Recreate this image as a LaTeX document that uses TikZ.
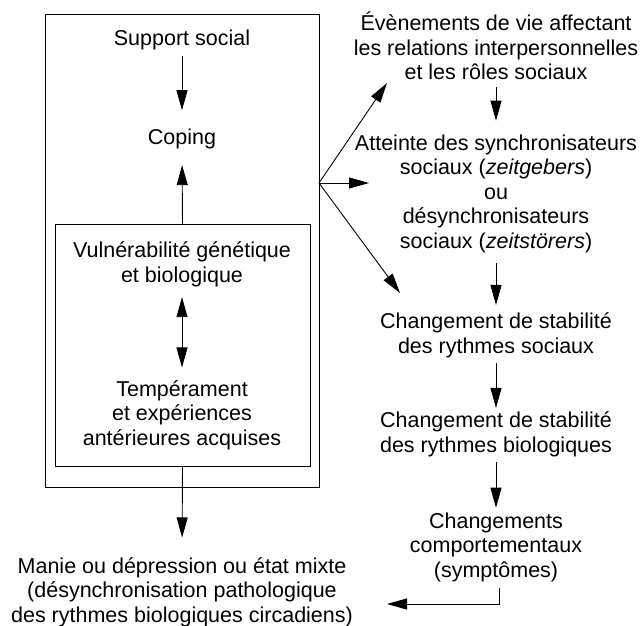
\documentclass[tikz,border=0pt]{standalone}
\usepackage{fontspec}
\setmainfont{Liberation Sans}
\usetikzlibrary{arrows.meta}

\tikzset{
  lbl/.style={align=center, inner sep=0pt, anchor=base, font=\fontsize{21.5}{24.5}\selectfont},
  cadre/.style={draw, line width=0.9pt, inner sep=0pt},
  arr/.style={-{Triangle[length=20pt,width=11pt]}, line width=0.9pt},
  arrdbl/.style={{Triangle[length=20pt,width=11pt]}-{Triangle[length=20pt,width=11pt]}, line width=0.9pt}
}

\begin{document}
\begin{tikzpicture}[x=1pt,y=-1pt]
      \useasboundingbox (0,0) rectangle (640,626);
      \node[cadre, minimum width=274pt, minimum height=473pt] (ext) at (182,250.5) {};
      \node[cadre, minimum width=255pt, minimum height=242pt] (int) at (182.5,345) {};
      \node[lbl] (sup) at (182,46) {Support social};
      \node[lbl] (cop) at (182,144) {Coping};
      \node[lbl] (vul) at (182,282) {Vulnérabilité génétique\\et biologique};
      \node[lbl] (tem) at (182,445) {Tempérament\\et expériences\\antérieures acquises};
      \node[lbl] (man) at (182,622) {Manie ou dépression ou état mixte\\(désynchronisation pathologique\\des rythmes biologiques circadiens)};
      \node[lbl] (eve) at (496,80) {Évènements de vie affectant\\les relations interpersonnelles\\et les rôles sociaux};
      \node[lbl] (att) at (496,248) {Atteinte des synchronisateurs\\sociaux (\textit{zeitgebers})\\ou\\désynchronisateurs\\sociaux (\textit{zeitstörers})};
      \node[lbl] (cs1) at (496,353) {Changement de stabilité\\des rythmes sociaux};
      \node[lbl] (cs2) at (496,452) {Changement de stabilité\\des rythmes biologiques};
      \node[lbl] (chg) at (496,577) {Changements\\comportementaux\\(symptômes)};
      \coordinate (fan) at (319,183);
      \coordinate (versEve) at (387,83);
      \coordinate (versAtt) at (369,183);
      \coordinate (versCs) at (400,293);
      \coordinate (retour) at (387,604);
      \draw[arr, shorten <=5.5pt, shorten >=18pt] (sup.south) -- (cop.north);
      \draw[arr, shorten >=16.5pt] (int.north) -- (cop.south);
      \draw[arrdbl, shorten <=10.5pt, shorten >=12.5pt] (vul.south) -- (tem.north);
      \draw[arr, shorten >=19.5pt] (int.south) -- (man.north);
      \draw[arr] (fan) -- (versEve);
      \draw[arr] (fan) -- (versAtt);
      \draw[arr] (fan) -- (versCs);
      \draw[arr, shorten <=7pt, shorten >=13.5pt] (eve.south) -- (att.north);
      \draw[arr, shorten <=10.5pt, shorten >=7.5pt] (att.south) -- (cs1.north);
      \draw[arr, shorten <=5.5pt, shorten >=3.5pt] (cs1.south) -- (cs2.north);
      \draw[arr, shorten <=5.5pt, shorten >=4.5pt] (cs2.south) -- (chg.north);
      \draw[arr, shorten <=6.5pt] ([xshift=3pt]chg.south) |- (retour);
    \end{tikzpicture}
\end{document}
